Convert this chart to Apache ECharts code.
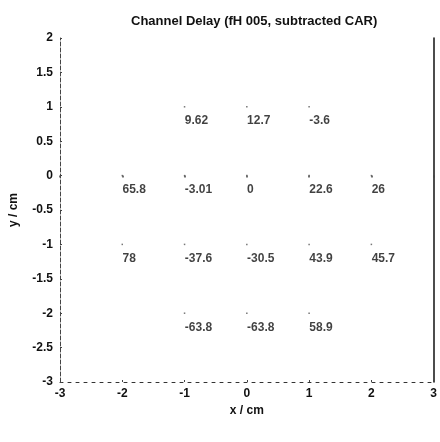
<!DOCTYPE html>
<html>
<head>
<meta charset="utf-8">
<script src="https://cdn.jsdelivr.net/npm/echarts@6/dist/echarts.min.js"></script>
<style>
    html, body { margin: 0; padding: 0; background: #fff; }
    #chart { width: 440px; height: 442px; }
</style>
</head>
<body>
<div id="chart"></div>
<script>
// 电极位置 (cm) 与通道延迟
const electrodeX = [-1, 0, 1, -2, -1, 0, 1, 2, -2, -1, 0, 1, 2, -1, 0, 1];
const electrodeY = [1, 1, 1, 0, 0, 0, 0, 0, -1, -1, -1, -1, -1, -2, -2, -2];
const delayValues = [9.62, 12.7, -3.6, 65.8, -3.01, 0, 22.6, 26, 78, -37.6, -30.5, 43.9, 45.7, -63.8, -63.8, 58.9];

const titleText = 'Channel Delay (fH 005, subtracted CAR)';
const xName = 'x / cm';
const yName = 'y / cm';

(function () {
    const chart = echarts.init(document.getElementById('chart'));
    const font = '"Liberation Sans", Arial, sans-serif';
    const txt = { fontFamily: font, fontSize: 12, fontWeight: 'bold', color: '#111' };

    const points = electrodeX.map((x, i) => [x, electrodeY[i], delayValues[i]]);

    chart.setOption({
        animation: false,
        backgroundColor: '#fff',
        title: {
            text: titleText,
            left: 126,
            top: 10,
            textStyle: Object.assign({}, txt, { fontSize: 13 })
        },
        grid: { left: 58, right: 6, top: 38, bottom: 60 },
        xAxis: [
            {
                type: 'value', min: -3, max: 3, interval: 1, position: 'bottom',
                name: xName, nameLocation: 'middle', nameGap: 22,
                nameTextStyle: txt,
                axisLine: { show: true, onZero: false, lineStyle: { color: '#333', width: 1, type: [3, 5] } },
                axisTick: { show: true, inside: true, length: 2, lineStyle: { color: '#444' } },
                axisLabel: Object.assign({ margin: 6 }, txt),
                splitLine: { show: false }
            },
            {
                type: 'value', min: -3, max: 3, interval: 1, position: 'top',
                axisLine: { show: false },
                axisTick: { show: true, inside: true, length: 2, lineStyle: { color: '#444', width: 1.5 } },
                axisLabel: { show: false },
                splitLine: { show: false }
            }
        ],
        yAxis: [
            {
                type: 'value', min: -3, max: 2, interval: 0.5, position: 'left',
                name: yName, nameLocation: 'middle', nameGap: 40,
                nameTextStyle: txt,
                axisLine: { show: true, onZero: false, lineStyle: { color: '#444', width: 1, type: [4, 2] } },
                axisTick: { show: true, inside: true, length: 2, lineStyle: { color: '#444' } },
                axisLabel: Object.assign({ margin: 7 }, txt),
                splitLine: { show: false }
            },
            {
                type: 'value', min: -3, max: 2, interval: 0.5, position: 'right',
                axisLine: { show: true, onZero: false, lineStyle: { color: '#111', width: 1.5 } },
                axisTick: { show: false },
                axisLabel: { show: false },
                splitLine: { show: false }
            }
        ],
        series: [
            {
                type: 'scatter',
                data: points,
                symbol: 'rect',
                symbolSize: 1.5,
                itemStyle: { color: '#555' },
                label: Object.assign({
                    show: true,
                    position: [1, 15],
                    align: 'left',
                    verticalAlign: 'middle',
                    formatter: p => String(p.value[2])
                }, txt)
            }
        ]
    });

    window.addEventListener('resize', () => chart.resize());
})();
</script>
</body>
</html>
